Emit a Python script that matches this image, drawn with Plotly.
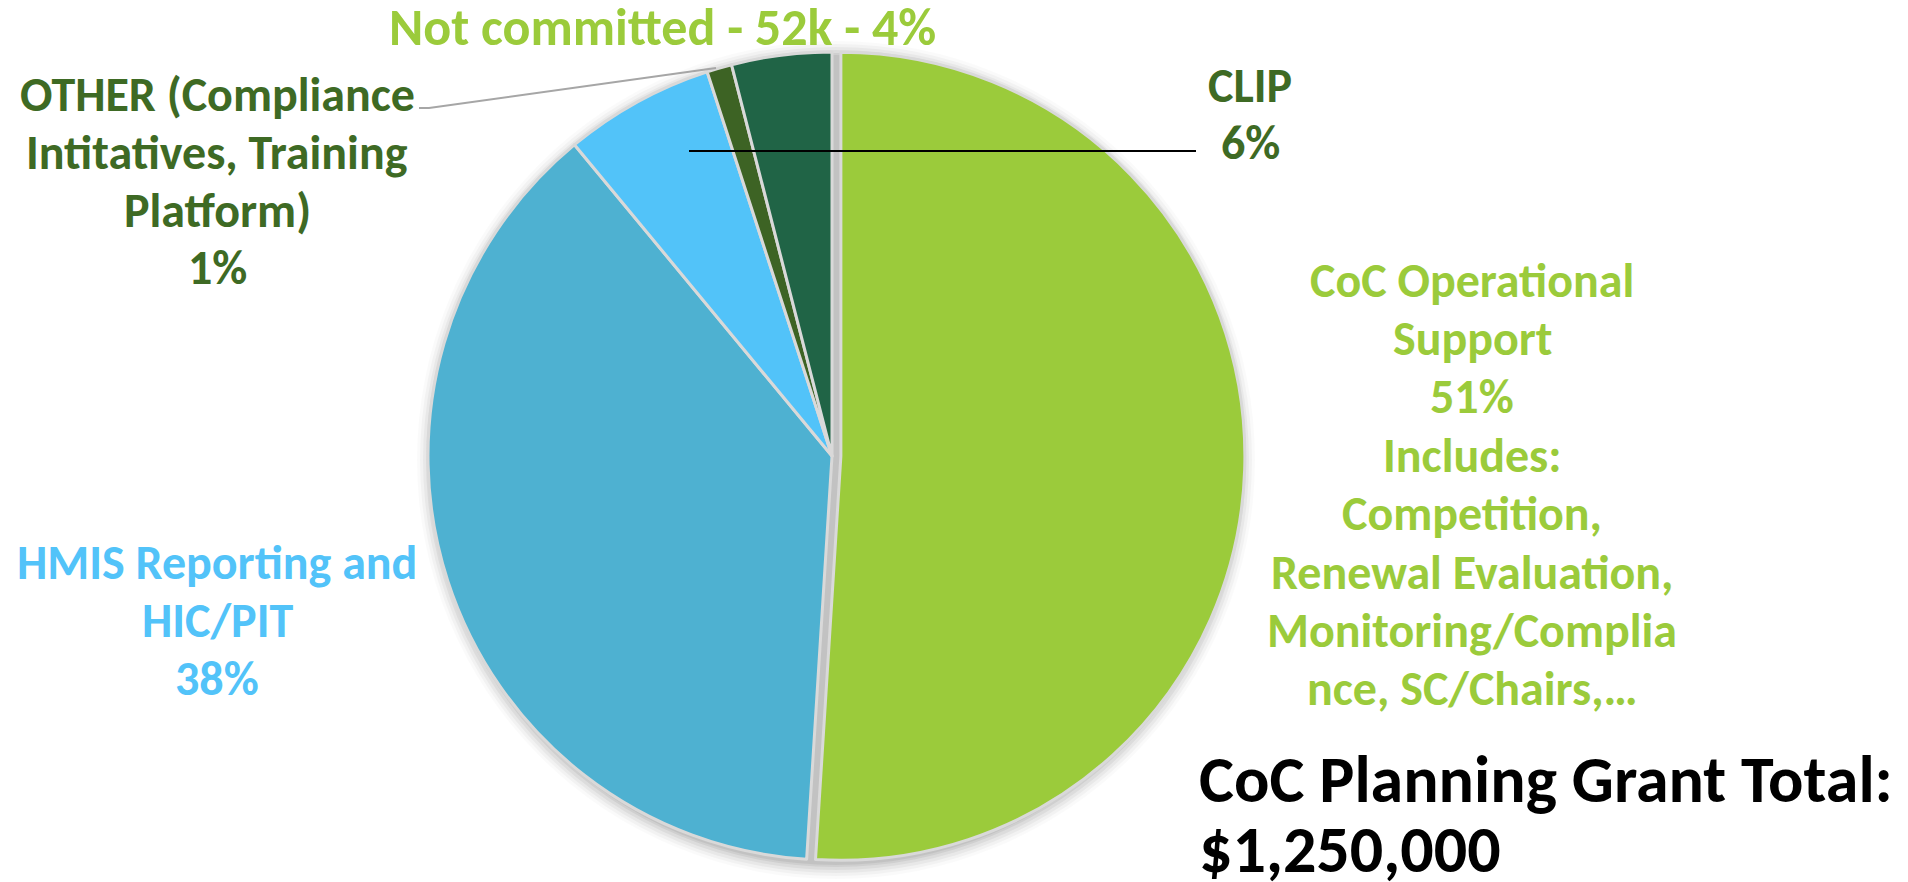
import plotly.graph_objects as go

# ---- data ----
categories = [
    "CoC Operational Support",
    "HMIS Reporting and HIC/PIT",
    "CLIP",
    "OTHER (Compliance Intitatives, Training Platform)",
    "Not committed",
]
shares = [51, 38, 6, 1, 4]
slice_colors = ["#9bcb3b", "#4eb1d1", "#52c3f9", "#3d6324", "#206446"]
pulls = [0.022, 0, 0, 0, 0]

label_coc = ["CoC Operational", "Support", "51%", "Includes:", "Competition,",
             "Renewal Evaluation,", "Monitoring/Complia", "nce, SC/Chairs,…"]
label_hmis = ["HMIS Reporting and", "HIC/PIT", "38%"]
label_other = ["OTHER (Compliance", "Intitatives, Training", "Platform)", "1%"]
label_clip = ["CLIP", "6%"]
label_nc = ["Not committed - 52k - 4%"]
title_lines = ["CoC Planning Grant Total:", "$1,250,000"]

# page body has an 8px margin: figure is sized to fit the window exactly
OFF = 8
W, H = 1908 - OFF, 882 - OFF
FONT = "Carlito, Lato, 'Open Sans', sans-serif"
GREEN = "#9bcb3b"
DKGREEN = "#3e6a24"
LTBLUE = "#52c3f9"


def px(x):
    return (x - OFF) / W


def py(y):
    return 1 - (y - OFF) / H


fig = go.Figure()

# pie geometry (window pixels)
cx, cy, r = 832, 456, 404
box = r * (2 + 2 * max(pulls))

fig.add_trace(go.Pie(
    labels=categories,
    values=shares,
    sort=False,
    direction="clockwise",
    rotation=0,
    pull=pulls,
    marker=dict(colors=slice_colors, line=dict(color="#d9d9d9", width=3)),
    textinfo="none",
    hoverinfo="label+percent",
    showlegend=False,
    domain=dict(x=[px(cx - box / 2), px(cx + box / 2)],
                y=[py(cy + box / 2), py(cy - box / 2)]),
))

shapes = []
# soft shadow around the pie (slightly toward bottom-right)
for dr, op in [(15, 0.02), (12, 0.03), (9, 0.04), (6, 0.05), (3, 0.06), (1, 0.06)]:
    rr = r + dr
    shapes.append(dict(type="circle", xref="paper", yref="paper", layer="below",
                       x0=px(cx + 4 - rr), x1=px(cx + 4 + rr),
                       y0=py(cy + 4 + rr), y1=py(cy + 4 - rr),
                       fillcolor=f"rgba(0,0,0,{op})", line=dict(width=0)))
# leader line for CLIP
shapes.append(dict(type="line", xref="paper", yref="paper", layer="above",
                   x0=px(689), x1=px(1196), y0=py(151), y1=py(151),
                   line=dict(color="black", width=2)))
# leader line for OTHER
shapes.append(dict(type="path", xref="paper", yref="paper", layer="above",
                   path=f"M {px(419)},{py(108)} L {px(429)},{py(108)} L {px(716)},{py(68)}",
                   line=dict(color="#a6a6a6", width=2)))

annotations = []


def block(lines, x, y0, step, color, size, xanchor="center"):
    for i, t in enumerate(lines):
        annotations.append(dict(
            text=t, x=px(x), y=py(y0 + i * step), xref="paper", yref="paper",
            showarrow=False, xanchor=xanchor, yanchor="middle",
            font=dict(family=FONT, size=size, color=color, weight="bold")))


block(label_nc, 662, 27, 0, GREEN, 52)
block(label_other, 217, 95, 57.5, DKGREEN, 48)
block(label_clip, 1250, 85, 57, DKGREEN, 48)
block(label_coc, 1472, 280, 58.4, GREEN, 48)
block(label_hmis, 217, 562, 58, LTBLUE, 48)
block(title_lines, 1197, 779, 70, "#000000", 66, xanchor="left")

fig.update_layout(
    width=W, height=H,
    margin=dict(l=0, r=0, t=0, b=0),
    paper_bgcolor="white", plot_bgcolor="white",
    shapes=shapes, annotations=annotations,
)

fig.write_html("out.html")
